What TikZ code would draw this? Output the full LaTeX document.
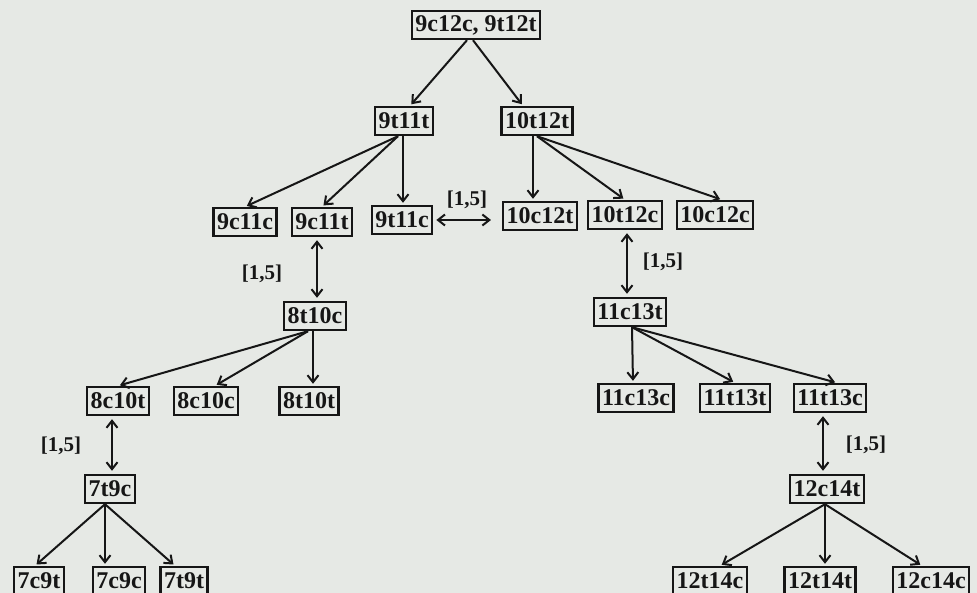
\documentclass[tikz,border=0pt]{standalone}
\usepackage{fontspec}
\setmainfont{Liberation Serif}
\usetikzlibrary{arrows.meta}
\definecolor{paper}{HTML}{E6E9E5}
\definecolor{ink}{HTML}{161616}
\begin{document}
\begin{tikzpicture}[x=1pt,y=-1pt,
  iso/.style={draw=ink, text=ink, line width=2.4pt, inner xsep=3.5pt, inner ysep=1pt,
    font=\bfseries\fontsize{24}{24}\selectfont, minimum height=28pt},
  conv/.style={draw=ink, line width=2pt, -{Straight Barb[length=7pt,width=11pt]}, shorten >=2pt},
  shiftarr/.style={draw=ink, line width=2pt,
    {Straight Barb[length=7pt,width=11pt]}-{Straight Barb[length=7pt,width=11pt]},
    shorten >=3pt, shorten <=3pt},
  lab/.style={text=ink, font=\bfseries\fontsize{21}{21}\selectfont}]

% paper and page frame
\fill[paper] (0,0) rectangle (977,593);
\useasboundingbox (0,0) rectangle (977,593);

% isomer boxes
\node[iso] (top)     at (476,25)  {9c12c, 9t12t};
\node[iso] (n9t11t)  at (404,121) {9t11t};
\node[iso] (n10t12t) at (537,121) {10t12t};
\node[iso] (n9c11c)  at (245,222) {9c11c};
\node[iso] (n9c11t)  at (322,222) {9c11t};
\node[iso] (n9t11c)  at (402,220) {9t11c};
\node[iso] (n10c12t) at (540,216) {10c12t};
\node[iso] (n10t12c) at (625,215) {10t12c};
\node[iso] (n10c12c) at (715,215) {10c12c};
\node[iso] (n8t10c)  at (315,316) {8t10c};
\node[iso] (n8c10t)  at (118,401) {8c10t};
\node[iso] (n8c10c)  at (206,401) {8c10c};
\node[iso] (n8t10t)  at (309,401) {8t10t};
\node[iso] (n7t9c)   at (110,489) {7t9c};
\node[iso] (n7c9t)   at (39,581)  {7c9t};
\node[iso] (n7c9c)   at (119,581) {7c9c};
\node[iso] (n7t9t)   at (184,581) {7t9t};
\node[iso] (n11c13t) at (630,312) {11c13t};
\node[iso] (n11c13c) at (636,398) {11c13c};
\node[iso] (n11t13t) at (735,398) {11t13t};
\node[iso] (n11t13c) at (830,398) {11t13c};
\node[iso] (n12c14t) at (827,489) {12c14t};
\node[iso] (n12t14c) at (710,581) {12t14c};
\node[iso] (n12t14t) at (820,581) {12t14t};
\node[iso] (n12c14c) at (931,581) {12c14c};

% shift labels
\node[lab] (s1) at (467,200) {[1,5]};
\node[lab] (s2) at (262,274) {[1,5]};
\node[lab] (s3) at (663,262) {[1,5]};
\node[lab] (s4) at (61,446)  {[1,5]};
\node[lab] (s5) at (866,445) {[1,5]};

% conversions
\draw[conv] ([xshift=-9pt]top.south) -- ([xshift=6pt]n9t11t.north);
\draw[conv] ([xshift=-3pt]top.south) -- ([xshift=-14pt]n10t12t.north);

\draw[conv] ([xshift=-6pt]n9t11t.south) -- (n9c11c.north);
\draw[conv] ([xshift=-6pt]n9t11t.south) -- (n9c11t.north);
\draw[conv] ([xshift=-1pt]n9t11t.south) -- ([xshift=1pt]n9t11c.north);

\draw[conv] ([xshift=-4pt]n10t12t.south) -- ([xshift=-7pt]n10c12t.north);
\draw[conv] (n10t12t.south) -- (n10t12c.north);
\draw[conv] (n10t12t.south) -- ([xshift=7pt]n10c12c.north);

\draw[conv] ([xshift=-7pt]n8t10c.south) -- (n8c10t.north);
\draw[conv] ([xshift=-7pt]n8t10c.south) -- ([xshift=9pt]n8c10c.north);
\draw[conv] ([xshift=-2pt]n8t10c.south) -- ([xshift=4pt]n8t10t.north);

\draw[conv] ([xshift=-5pt]n7t9c.south) -- ([xshift=-4pt]n7c9t.north);
\draw[conv] ([xshift=-5pt]n7t9c.south) -- ([xshift=-14pt]n7c9c.north);
\draw[conv] ([xshift=-5pt]n7t9c.south) -- ([xshift=-9pt]n7t9t.north);

\draw[conv] ([xshift=2pt]n11c13t.south) -- ([xshift=-3pt]n11c13c.north);
\draw[conv] ([xshift=2pt]n11c13t.south) -- (n11t13t.north);
\draw[conv] ([xshift=2pt]n11c13t.south) -- ([xshift=7pt]n11t13c.north);

\draw[conv] ([xshift=-2pt]n12c14t.south) -- ([xshift=10pt]n12t14c.north);
\draw[conv] ([xshift=-2pt]n12c14t.south) -- ([xshift=5pt]n12t14t.north);
\draw[conv] ([xshift=-2pt]n12c14t.south) -- ([xshift=-9pt]n12c14c.north);

% reversible [1,5] shifts
\draw[shiftarr] (n9t11c.east) -- ([xshift=-8pt]n9t11c.east -| n10c12t.west);
\draw[shiftarr] ([xshift=-5pt]n9c11t.south) -- ([xshift=2pt]n8t10c.north);
\draw[shiftarr] ([xshift=2pt]n10t12c.south) -- ([xshift=2pt]n10t12c.south |- n11c13t.north);
\draw[shiftarr] ([xshift=-6pt]n8c10t.south) -- ([xshift=2pt]n7t9c.north);
\draw[shiftarr] ([xshift=-7pt]n11t13c.south) -- ([xshift=-4pt]n12c14t.north);
\end{tikzpicture}
\end{document}
